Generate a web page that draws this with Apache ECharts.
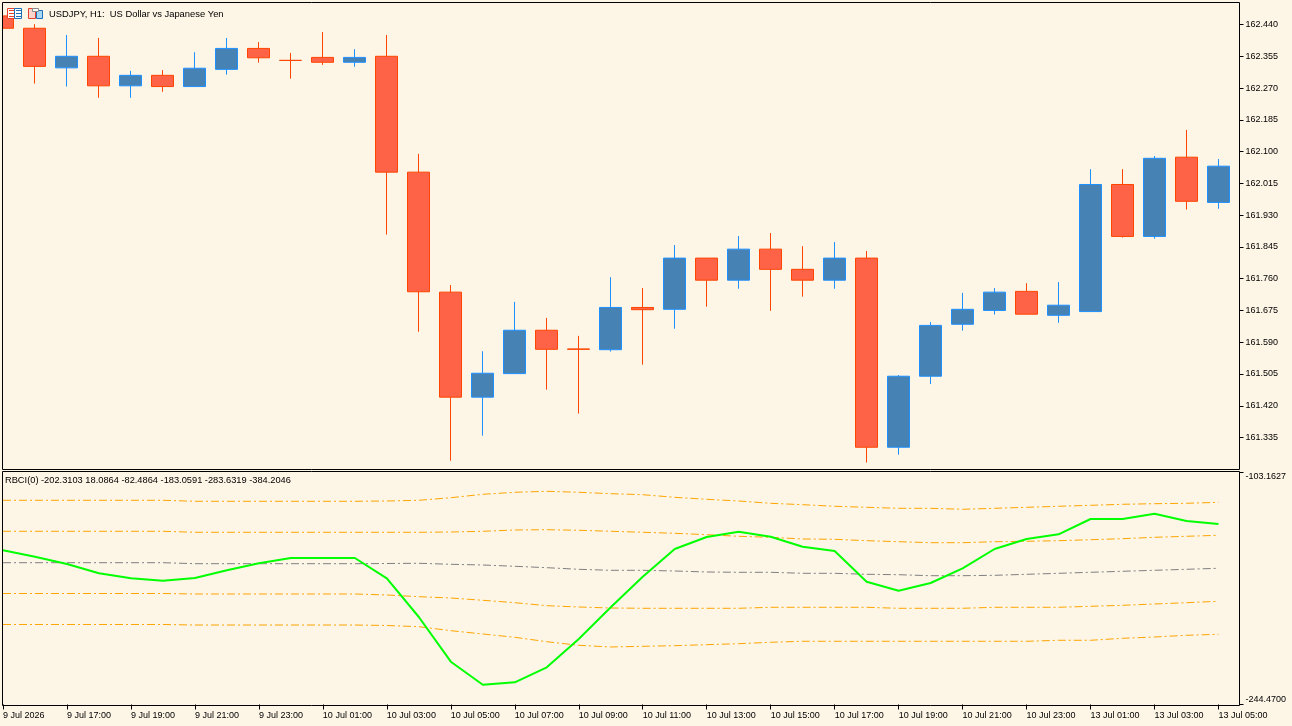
<!DOCTYPE html>
<html>
<head>
<meta charset="utf-8">
<style>html,body{margin:0;padding:0;background:#FDF5E6;}#c{width:1292px;height:726px;}</style>
<script src="https://cdn.jsdelivr.net/npm/echarts@6/dist/echarts.min.js"></script>
</head>
<body>
<div id="c"></div>
<script>
const chartTitle = 'USDJPY, H1:  US Dollar vs Japanese Yen';
const indicatorTitle = 'RBCI(0) -202.3103 18.0864 -82.4864 -183.0591 -283.6319 -384.2046';
const categories = ['9 Jul 2026','9 Jul 16:00','9 Jul 17:00','9 Jul 18:00','9 Jul 19:00','9 Jul 20:00','9 Jul 21:00','9 Jul 22:00','9 Jul 23:00','10 Jul 00:00','10 Jul 01:00','10 Jul 02:00','10 Jul 03:00','10 Jul 04:00','10 Jul 05:00','10 Jul 06:00','10 Jul 07:00','10 Jul 08:00','10 Jul 09:00','10 Jul 10:00','10 Jul 11:00','10 Jul 12:00','10 Jul 13:00','10 Jul 14:00','10 Jul 15:00','10 Jul 16:00','10 Jul 17:00','10 Jul 18:00','10 Jul 19:00','10 Jul 20:00','10 Jul 21:00','10 Jul 22:00','10 Jul 23:00','13 Jul 00:00','13 Jul 01:00','13 Jul 02:00','13 Jul 03:00','13 Jul 04:00','13 Jul 05:00'];
const opens  = [162.463,162.430,162.324,162.355,162.276,162.304,162.274,162.320,162.376,162.344,162.352,162.339,162.355,162.045,161.724,161.443,161.506,161.622,161.572,161.570,161.683,161.678,161.815,161.756,161.839,161.785,161.756,161.815,161.309,161.499,161.638,161.675,161.726,161.662,161.672,162.012,161.873,162.085,161.964];
const closes = [162.430,162.328,162.355,162.276,162.304,162.274,162.323,162.376,162.351,162.344,162.339,162.352,162.045,161.725,161.443,161.507,161.622,161.571,161.571,161.683,161.677,161.815,161.756,161.839,161.785,161.756,161.815,161.309,161.499,161.635,161.678,161.724,161.665,161.689,162.012,161.873,162.082,161.967,162.061];
const lows   = [162.430,162.282,162.274,162.244,162.244,162.260,162.274,162.306,162.338,162.295,162.332,162.327,161.878,161.618,161.273,161.340,161.506,161.463,161.399,161.565,161.530,161.626,161.685,161.733,161.674,161.712,161.733,161.268,161.289,161.478,161.621,161.664,161.665,161.642,161.672,161.870,161.867,161.945,161.947];
const highs  = [162.463,162.441,162.412,162.404,162.316,162.318,162.366,162.404,162.393,162.364,162.420,162.374,162.412,162.094,161.743,161.566,161.698,161.655,161.607,161.764,161.735,161.850,161.815,161.874,161.882,161.847,161.858,161.834,161.502,161.644,161.722,161.735,161.748,161.751,162.053,162.053,162.088,162.158,162.080];
const rbci = [-150.55,-154.44,-158.89,-164.56,-167.60,-169.06,-167.42,-162.73,-158.46,-155.24,-155.24,-155.24,-167.60,-191.17,-218.40,-232.41,-230.95,-221.81,-204.57,-185.26,-166.63,-149.75,-142.45,-139.22,-142.26,-148.35,-150.97,-169.67,-175.16,-170.46,-161.51,-149.75,-143.66,-140.80,-131.48,-131.48,-128.25,-132.70,-134.53];
const band1 = [-120.09,-120.09,-120.09,-120.09,-120.09,-120.09,-120.70,-120.70,-120.70,-120.70,-120.70,-120.70,-120.52,-120.09,-118.51,-116.44,-115.22,-114.61,-115.22,-116.07,-116.68,-118.27,-119.48,-120.52,-121.92,-122.77,-123.74,-124.36,-124.97,-124.97,-125.57,-124.97,-124.36,-123.74,-123.14,-122.53,-122.16,-121.92,-121.31];
const band2 = [-138.97,-138.97,-138.97,-138.97,-138.97,-138.97,-139.58,-139.58,-139.58,-139.58,-139.58,-139.58,-139.58,-139.58,-139.40,-138.97,-138.18,-138.00,-138.36,-138.97,-139.58,-140.19,-141.04,-142.02,-142.63,-143.66,-143.85,-144.70,-145.31,-145.92,-145.92,-145.31,-145.06,-144.70,-144.09,-143.48,-142.63,-142.02,-141.41];
const band3 = [-158.10,-158.10,-158.10,-158.10,-158.10,-158.10,-158.71,-158.71,-158.71,-158.71,-158.71,-158.71,-158.59,-158.46,-159.07,-159.50,-160.29,-161.14,-162.12,-162.73,-162.73,-163.15,-163.76,-163.95,-163.95,-164.56,-164.56,-165.17,-165.41,-166.02,-166.02,-165.78,-165.17,-164.56,-163.95,-163.34,-162.73,-162.12,-161.51];
const band4 = [-176.86,-176.86,-176.86,-176.86,-176.86,-176.86,-177.16,-177.16,-177.16,-177.16,-177.16,-177.16,-177.77,-178.81,-179.60,-181.00,-182.46,-184.29,-185.08,-185.69,-185.87,-185.87,-185.87,-185.87,-185.26,-185.26,-185.26,-185.26,-185.87,-185.87,-185.87,-185.26,-185.26,-185.26,-184.66,-184.05,-183.25,-182.46,-181.61];
const band5 = [-195.74,-195.74,-195.74,-195.74,-195.74,-195.74,-196.05,-196.05,-196.05,-196.05,-196.05,-196.05,-196.35,-197.08,-199.51,-201.53,-203.54,-206.22,-208.41,-209.44,-209.02,-208.65,-208.04,-207.43,-206.58,-205.97,-205.97,-205.97,-205.97,-205.97,-205.97,-205.97,-205.97,-205.36,-205.36,-204.15,-203.36,-202.32,-201.71];
const priceTicks = [161.335,161.42,161.505,161.59,161.675,161.76,161.845,161.93,162.015,162.1,162.185,162.27,162.355,162.44];
const indicatorTicks = [-244.47,-103.1627];

const FONT = 'Liberation Sans';
const FS = 9;
const BG = '#FDF5E6', INK = '#000000';
const candleData = opens.map((o, i) => [o, closes[i], lows[i], highs[i]]);

const bandLine = (name, data, color) => ({
  name, type: 'line', xAxisIndex: 1, yAxisIndex: 1, data, showSymbol: false, silent: true,
  lineStyle: { color, width: 1, type: [8, 3, 2, 3] }, z: 2
});

const chart = echarts.init(document.getElementById('c'), null, { renderer: 'canvas' });
chart.setOption({
  animation: false,
  backgroundColor: BG,
  title: [
    { text: chartTitle, left: 49, top: 10, padding: 0, textStyle: { fontFamily: FONT, fontSize: 9.4, fontWeight: 'normal', color: INK }, z: 20 },
    { text: indicatorTitle, left: 5, top: 476, padding: 0, textStyle: { fontFamily: FONT, fontSize: 9.27, fontWeight: 'normal', color: INK }, z: 20 }
  ],
  grid: [
    { left: 2.5, width: 1216, top: 2.5, height: 466.8 },
    { left: 2.5, width: 1216, top: 472.5, height: 232 }
  ],
  xAxis: [
    { type: 'category', gridIndex: 0, data: categories, show: false, boundaryGap: false },
    { type: 'category', gridIndex: 1, data: categories, boundaryGap: false,
      axisLine: { show: false },
      axisTick: { show: true, alignWithLabel: true, interval: 1, length: 5, lineStyle: { color: INK, width: 1 } },
      axisLabel: { interval: 1, margin: 7, align: 'left', hideOverlap: false, color: INK, fontFamily: FONT, fontSize: FS },
      splitLine: { show: false } }
  ],
  yAxis: [
    { type: 'value', gridIndex: 0, position: 'right', offset: 21, min: 161.25, max: 162.4989, scale: true,
      axisLine: { show: false }, splitLine: { show: false },
      axisTick: { show: true, length: 4, customValues: priceTicks, lineStyle: { color: INK } },
      axisLabel: { margin: 6, customValues: priceTicks, color: INK, fontFamily: FONT, fontSize: FS, formatter: v => v.toFixed(3) } },
    { type: 'value', gridIndex: 1, position: 'right', offset: 21, min: -244.47, max: -103.1627, scale: true,
      axisLine: { show: false }, splitLine: { show: false },
      axisTick: { show: true, length: 4, customValues: indicatorTicks, lineStyle: { color: INK } },
      axisLabel: { margin: 6, customValues: indicatorTicks, color: INK, fontFamily: FONT, fontSize: FS,
        verticalAlignMinLabel: 'bottom', verticalAlignMaxLabel: 'top', formatter: v => v.toFixed(4) } }
  ],
  series: [
    { name: 'USDJPY', type: 'candlestick', xAxisIndex: 0, yAxisIndex: 0, data: candleData, barWidth: 22, clip: false, silent: true,
      itemStyle: { color: '#4682B4', color0: '#FF6347', borderColor: '#1E90FF', borderColor0: '#FF4500', borderColorDoji: '#FF4500', borderWidth: 1 } },
    bandLine('L1', band1, '#FFA500'),
    bandLine('L2', band2, '#FFA500'),
    bandLine('L3', band3, '#808080'),
    bandLine('L4', band4, '#FFA500'),
    bandLine('L5', band5, '#FFA500'),
    { name: 'RBCI', type: 'line', xAxisIndex: 1, yAxisIndex: 1, data: rbci, showSymbol: false, silent: true,
      lineStyle: { color: '#00FF00', width: 2 }, z: 3 }
  ],
  graphic: [
    { type: 'rect', z: 50, silent: true, shape: { x: 0, y: 0, width: 2, height: 706 }, style: { fill: BG } },
    { type: 'rect', z: 51, silent: true, shape: { x: 2.5, y: 2.5, width: 1237, height: 467 }, style: { fill: 'none', stroke: INK, lineWidth: 1 } },
    { type: 'rect', z: 51, silent: true, shape: { x: 2.5, y: 471.5, width: 1237, height: 234 }, style: { fill: 'none', stroke: INK, lineWidth: 1 } },
    // window icons
    { type: 'rect', z: 60, silent: true, shape: { x: 7.5, y: 8.5, width: 7, height: 10 }, style: { fill: '#FFFFFF', stroke: '#E8402A', lineWidth: 1 } },
    { type: 'rect', z: 60, silent: true, shape: { x: 14.5, y: 8.5, width: 7, height: 10 }, style: { fill: '#FFFFFF', stroke: '#1C6FB8', lineWidth: 1 } },
    { type: 'line', z: 61, silent: true, shape: { x1: 9, y1: 10.5, x2: 14, y2: 10.5 }, style: { stroke: '#E8402A' } },
    { type: 'line', z: 61, silent: true, shape: { x1: 9, y1: 13.5, x2: 14, y2: 13.5 }, style: { stroke: '#E8402A' } },
    { type: 'line', z: 61, silent: true, shape: { x1: 9, y1: 16.5, x2: 14, y2: 16.5 }, style: { stroke: '#E8402A' } },
    { type: 'line', z: 61, silent: true, shape: { x1: 16, y1: 10.5, x2: 21, y2: 10.5 }, style: { stroke: '#1C6FB8' } },
    { type: 'line', z: 61, silent: true, shape: { x1: 16, y1: 13.5, x2: 21, y2: 13.5 }, style: { stroke: '#1C6FB8' } },
    { type: 'line', z: 61, silent: true, shape: { x1: 16, y1: 16.5, x2: 21, y2: 16.5 }, style: { stroke: '#1C6FB8' } },
    { type: 'rect', z: 60, silent: true, shape: { x: 28.5, y: 8.5, width: 7, height: 10 }, style: { fill: '#FBD5CC', stroke: '#E8402A', lineWidth: 1 } },
    { type: 'rect', z: 60, silent: true, shape: { x: 36.5, y: 10.5, width: 6, height: 8 }, style: { fill: '#A9D6F2', stroke: '#1C6FB8', lineWidth: 1 } },
    { type: 'rect', z: 61, silent: true, shape: { x: 32.5, y: 8.5, width: 6, height: 3 }, style: { fill: '#FFFFFF', stroke: '#8A8A8A', lineWidth: 1 } }
  ]
});
</script>
</body>
</html>
